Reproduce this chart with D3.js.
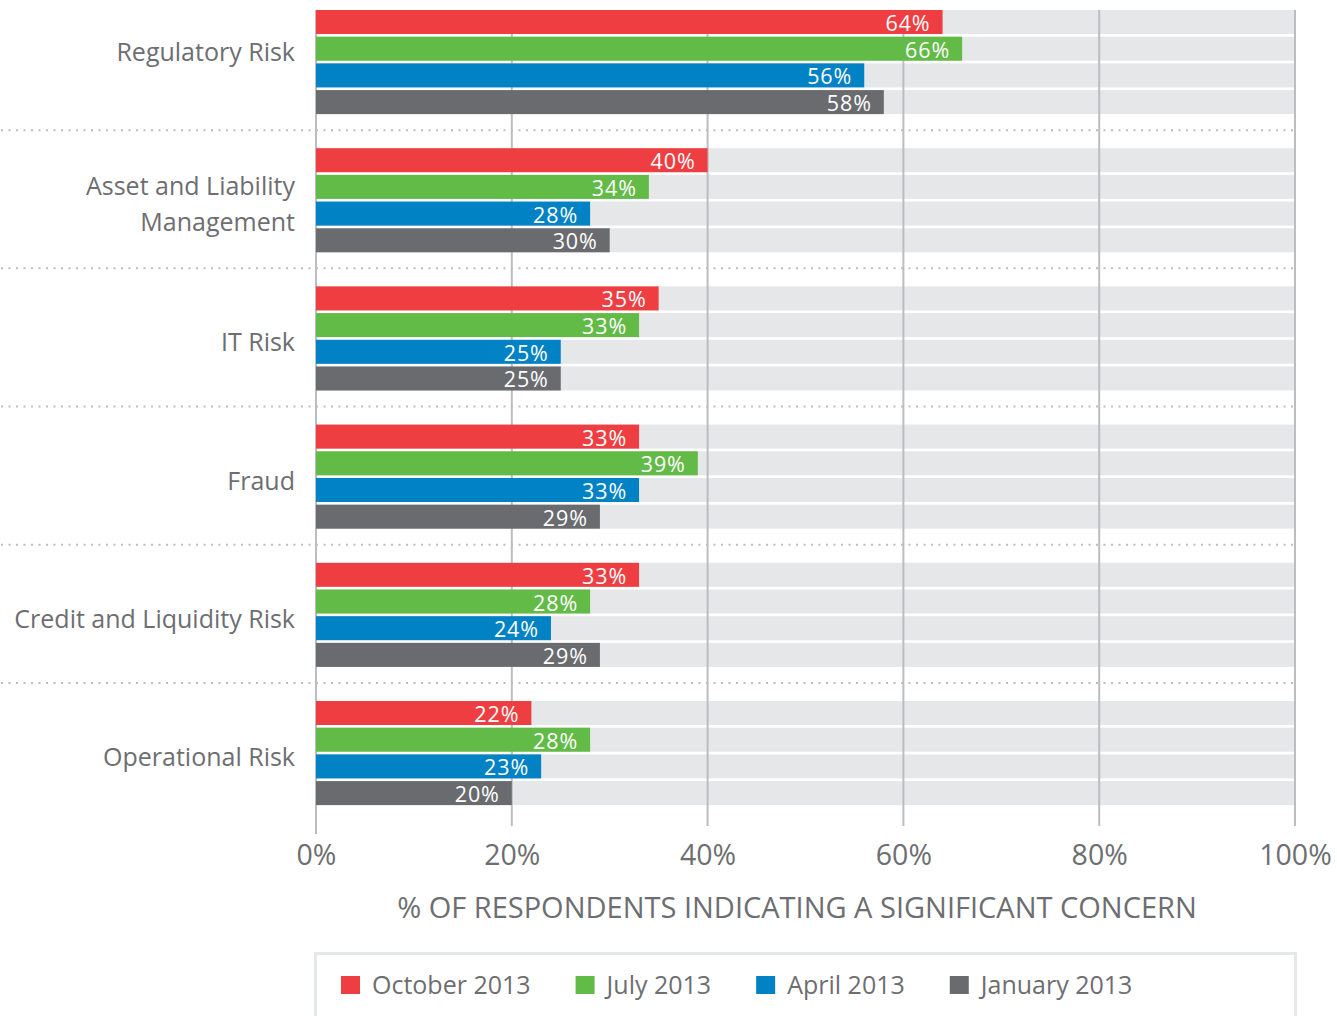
<!DOCTYPE html>
<html>
<head>
<meta charset="utf-8">
<script src="https://cdn.jsdelivr.net/npm/d3@7"></script>
<style>
  body { margin: 0; background: #fff; }
  svg { display: block; font-family: "Open Sans", sans-serif; }
</style>
</head>
<body>
<svg id="chart" width="1337" height="1016"></svg>
<script>
// values
const categories = ["Regulatory Risk", "Asset and Liability\nManagement", "IT Risk", "Fraud", "Credit and Liquidity Risk", "Operational Risk"];
const series = ["October 2013", "July 2013", "April 2013", "January 2013"];
const october = [64, 40, 35, 33, 33, 22];
const july = [66, 34, 33, 39, 28, 28];
const april = [56, 28, 25, 33, 24, 23];
const january = [58, 30, 25, 29, 29, 20];
const tickValues = [0, 20, 40, 60, 80, 100];
const colors = ["#EF3E42", "#62BB46", "#0082C4", "#6A6B6F"];

const values = [october, july, april, january];
const textColor = "#6D6E71";
const gridColor = "#BCBDC0";
const bgColor = "#E6E7E8";

const svg = d3.select("#chart");

const x = d3.scaleLinear().domain([0, 100]).range([316, 1295]);

const groupStep = 138.2;
const y0 = d3.scaleBand()
	.domain(categories)
	.range([10, 10 + groupStep * categories.length])
	.paddingInner(0);
const y1 = d3.scaleBand()
	.domain(series)
	.range([0, 104.1])
	.paddingInner(0.1);

// dotted separators between groups
categories.slice(1).forEach(c => {
	const yy = y0(c) - (groupStep - 104.1) / 2 - 1;
	svg.append("line")
		.attr("x1", 1).attr("x2", x(100))
		.attr("y1", yy).attr("y2", yy)
		.attr("stroke", gridColor)
		.attr("stroke-width", 2)
		.attr("stroke-dasharray", "2,5.5");
});

// grey track behind each bar
const groups = svg.selectAll("g.group")
	.data(categories)
	.join("g")
	.attr("class", "group")
	.attr("transform", c => `translate(0,${y0(c)})`);

groups.selectAll("rect.track")
	.data(series)
	.join("rect")
	.attr("class", "track")
	.attr("x", x(0))
	.attr("width", x(100) - x(0))
	.attr("y", s => y1(s))
	.attr("height", y1.bandwidth())
	.attr("fill", bgColor);

// vertical gridlines
const gridG = svg.append("g");
tickValues.forEach(t => {
	gridG.append("line")
		.attr("x1", x(t)).attr("x2", x(t))
		.attr("y1", 10)
		.attr("y2", t === 0 ? 834 : 826)
		.attr("stroke", gridColor)
		.attr("stroke-width", 2);
});

// bars + value labels
const bars = svg.selectAll("g.bars")
	.data(categories)
	.join("g")
	.attr("class", "bars")
	.attr("transform", c => `translate(0,${y0(c)})`);

bars.each(function (c, ci) {
	const g = d3.select(this);
	series.forEach((s, si) => {
		const v = values[si][ci];
		g.append("rect")
			.attr("x", x(0))
			.attr("y", y1(s))
			.attr("width", x(v) - x(0))
			.attr("height", y1.bandwidth())
			.attr("fill", colors[si]);
		g.append("text")
			.attr("x", x(v) - 12)
			.attr("y", y1(s) + y1.bandwidth() - 3)
			.attr("text-anchor", "end")
			.attr("fill", "#fff")
			.style("font-size", "21.5px")
			.style("letter-spacing", "0.9px")
			.text(v + "%");
	});
});

// category labels
categories.forEach((c, i) => {
	const lines = c.split("\n");
	const mid = y0(c) + 104.1 / 2;
	// the first label sits a little higher than the rest in the original
	const shift = i === 0 ? -1 : 13;
	const lineH = 35.6;
	const t = svg.append("text")
		.attr("text-anchor", "end")
		.attr("fill", textColor)
		.style("font-size", "25px");
	lines.forEach((l, li) => {
		t.append("tspan")
			.attr("x", 295)
			.attr("y", mid + shift + (li - (lines.length - 1) / 2) * lineH)
			.text(l);
	});
});

// x axis tick labels
const axis = svg.append("g")
	.attr("transform", "translate(0,865)")
	.call(d3.axisBottom(x).tickValues(tickValues).tickSize(0).tickPadding(0).tickFormat(d => d + "%"));
axis.select(".domain").remove();
axis.selectAll("text")
	.attr("dy", 0)
	.attr("y", 0)
	.attr("fill", textColor)
	.style("font-family", "'Open Sans', sans-serif")
	.style("font-size", "28.5px");

svg.append("text")
	.attr("x", 797)
	.attr("y", 918)
	.attr("text-anchor", "middle")
	.attr("fill", textColor)
	.style("font-size", "29px")
	.text("% OF RESPONDENTS INDICATING A SIGNIFICANT CONCERN");

// legend
svg.append("rect")
	.attr("x", 315.5).attr("y", 953.5)
	.attr("width", 980).attr("height", 100)
	.attr("fill", "none")
	.attr("stroke", bgColor)
	.attr("stroke-width", 3);

let lx = 341;
series.forEach((s, i) => {
	svg.append("rect")
		.attr("x", lx).attr("y", 976)
		.attr("width", 19).attr("height", 18)
		.attr("fill", colors[i]);
	const t = svg.append("text")
		.attr("x", lx + 31)
		.attr("y", 994)
		.attr("fill", textColor)
		.style("font-size", "25px")
		.text(s);
	lx += 31 + t.node().getComputedTextLength() + 45;
});
</script>
</body>
</html>
